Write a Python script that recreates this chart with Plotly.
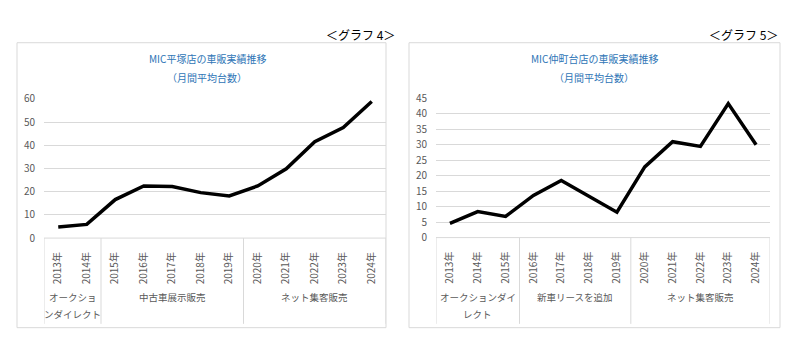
import plotly.graph_objects as go

# page is 800x356; the html body has an 8px margin, so the figure is 784x340
PAGE_OFF = 8
W, H = 784, 340

years = ["2013年", "2014年", "2015年", "2016年", "2017年", "2018年",
         "2019年", "2020年", "2021年", "2022年", "2023年", "2024年"]

# Chart 4 (Hiratsuka)
hiratsuka = [4.8, 5.9, 16.6, 22.5, 22.2, 19.6, 18.2, 22.5, 29.9, 41.6, 47.7, 58.9]
hiratsuka_groups = [["オークショ", "ンダイレクト"], ["中古車展示販売"], ["ネット集客販売"]]
hiratsuka_group_spans = [(0, 1), (2, 6), (7, 11)]
hiratsuka_yticks = [0, 10, 20, 30, 40, 50, 60]

# Chart 5 (Nakamachidai)
nakamachidai = [4.6, 8.4, 6.8, 13.6, 18.4, 13.3, 8.2, 22.8, 30.9, 29.4, 43.2, 29.9]
nakamachidai_groups = [["オークションダイ", "レクト"], ["新車リースを追加"], ["ネット集客販売"]]
nakamachidai_group_spans = [(0, 2), (3, 6), (7, 11)]
nakamachidai_yticks = [0, 5, 10, 15, 20, 25, 30, 35, 40, 45]

titles = ["MIC平塚店の車販実績推移", "MIC仲町台店の車販実績推移"]
subtitle = "（月間平均台数）"
labels = ["＜グラフ 4＞", "＜グラフ 5＞"]

FONT = "Noto Sans CJK JP"
GRID = "#D9D9D9"
TXT = "#595959"
BLUE = "#2E75B6"


def px(x):
    return (x - PAGE_OFF) / W


def py(y):
    return 1 - (y - PAGE_OFF) / H


fig = go.Figure()

charts = [
    dict(vals=hiratsuka, groups=hiratsuka_groups, spans=hiratsuka_group_spans,
         yticks=hiratsuka_yticks, ymax=60, box=(17, 35, 386, 334),
         plot=(44, 386, 94, 240), title=titles[0], label=labels[0],
         label_x=397, title_x=207),
    dict(vals=nakamachidai, groups=nakamachidai_groups, spans=nakamachidai_group_spans,
         yticks=nakamachidai_yticks, ymax=45, box=(409, 35, 780, 334),
         plot=(436, 770, 93, 239.5), title=titles[1], label=labels[1],
         label_x=780, title_x=594),
]

shapes = []
annotations = []

for i, c in enumerate(charts):
    sfx = "" if i == 0 else str(i + 1)
    xa, ya = "x" + sfx, "y" + sfx
    x0, x1, ytop, ybot = c["plot"]
    fig.add_trace(go.Scatter(
        x=years, y=c["vals"], mode="lines", xaxis=xa, yaxis=ya,
        line=dict(color="#000000", width=3.5, shape="linear"),
        showlegend=False, hoverinfo="x+y"))
    fig.update_layout(**{
        "xaxis" + sfx: dict(
            domain=[px(x0), px(x1)], anchor=ya, type="category",
            categoryorder="array", categoryarray=years,
            range=[-0.5, len(years) - 0.5], showgrid=False, zeroline=False,
            showline=False, ticks="", tickangle=-90, ticklabelstandoff=11,
            tickfont=dict(family=FONT, size=10, color=TXT)),
        "yaxis" + sfx: dict(
            domain=[py(ybot), py(ytop)], anchor=xa, range=[0, c["ymax"]],
            tickvals=c["yticks"], showgrid=True, gridcolor=GRID, gridwidth=1,
            zeroline=False, showline=False, ticks="", ticklabelstandoff=8,
            tickfont=dict(family=FONT, size=10, color=TXT)),
    })
    # outer chart border
    bx0, by0, bx1, by1 = c["box"]
    shapes.append(dict(type="rect", xref="paper", yref="paper",
                       x0=px(bx0), x1=px(bx1), y0=py(by1), y1=py(by0),
                       line=dict(color=GRID, width=1), layer="below"))
    # category axis line and group dividers
    shapes.append(dict(type="line", xref=xa, yref="paper",
                       x0=-0.5, x1=len(years) - 0.5, y0=py(ybot), y1=py(ybot),
                       line=dict(color=GRID, width=1)))
    bounds = [-0.5] + [s[1] + 0.5 for s in c["spans"]]
    for b in bounds:
        shapes.append(dict(type="line", xref=xa, yref="paper",
                           x0=b, x1=b, y0=py(ybot), y1=py(330),
                           line=dict(color=GRID, width=1)))
    for lines, (a, b) in zip(c["groups"], c["spans"]):
        for k, ln in enumerate(lines):
            annotations.append(dict(
                xref=xa, yref="paper", x=(a + b) / 2, y=py(302 + 18 * k),
                xanchor="center", yanchor="middle",
                text=ln, showarrow=False,
                font=dict(family=FONT, size=9.5, color=TXT)))
    annotations.append(dict(
        xref="paper", yref="paper", x=px(c["title_x"]), y=py(52),
        xanchor="center", yanchor="middle",
        text=c["title"], showarrow=False,
        font=dict(family=FONT, size=10, color=BLUE)))
    annotations.append(dict(
        xref="paper", yref="paper", x=px(c["title_x"]), y=py(71),
        xanchor="center", yanchor="middle",
        text=subtitle, showarrow=False,
        font=dict(family=FONT, size=10, color=BLUE)))
    annotations.append(dict(
        xref="paper", yref="paper", x=px(c["label_x"]), y=py(26), xanchor="right",
        yanchor="middle", text=c["label"],
        showarrow=False, font=dict(family=FONT, size=12, color="#000000")))

fig.update_layout(
    width=W, height=H, autosize=False,
    margin=dict(l=0, r=0, t=0, b=0),
    paper_bgcolor="#FFFFFF", plot_bgcolor="#FFFFFF",
    shapes=shapes, annotations=annotations,
    font=dict(family=FONT),
)

fig.write_html("out.html", config={"displayModeBar": False})
